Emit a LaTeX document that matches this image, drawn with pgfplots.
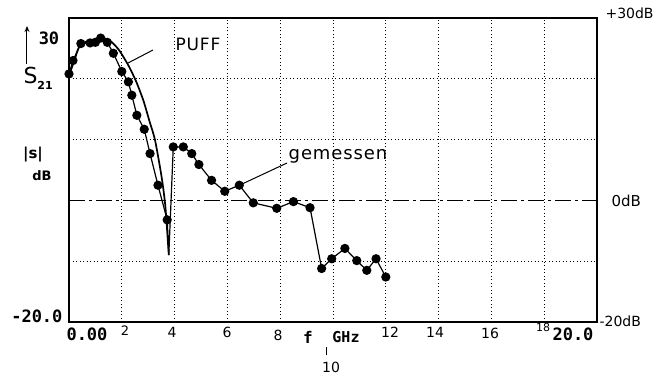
\documentclass[border=0pt]{standalone}
\usepackage{pgfplots}
\pgfplotsset{compat=1.18}
\usetikzlibrary{arrows.meta}
\usepackage{fontspec}
\setmainfont{DejaVu Sans}
\newfontfamily\mono{DejaVu Sans Mono}
\newfontfamily\hand{DejaVu Sans}[LetterSpace=5]
\pgfplotstableread{
x y
0.0 20.8
0.15 23.0
0.45 25.8
0.8 25.9
1.0 26.0
1.2 26.7
1.45 26.0
1.68 24.2
2.0 21.2
2.25 19.5
2.38 17.3
2.57 14.0
2.85 11.7
3.07 7.7
3.37 2.5
3.72 -3.2
3.78 -9.0
3.95 8.8
4.33 8.8
4.65 7.7
4.92 5.9
5.4 3.3
5.9 1.5
6.45 2.5
6.98 -0.4
7.87 -1.3
8.5 -0.2
9.13 -1.2
9.57 -11.2
9.95 -9.6
10.45 -7.9
10.9 -9.9
11.28 -11.5
11.63 -9.6
12.0 -12.6
}\measured
\pgfplotstableread{
x y
0.0 20.5
0.2 23.0
0.4 25.4
0.7 26.2
1.0 26.5
1.3 26.7
1.6 26.1
1.9 24.7
2.25 22.2
2.55 19.5
2.82 16.4
3.05 13.0
3.26 9.9
3.51 3.8
3.65 -1.0
3.78 -9.0
}\puff
\begin{document}
\begin{tikzpicture}[x=1pt,y=1pt]
\useasboundingbox (-69,-59) rectangle (586,322);
\begin{axis}[at={(0,0)}, anchor=south west, scale only axis,
  width=528pt, height=304pt,
  xmin=0, xmax=20, ymin=-20, ymax=30,
  xtick={2,4,...,18}, ytick={-10,10,20},
  xticklabels={}, yticklabels={},
  major tick length=0pt,
  grid=major, grid style={black, line width=0.9pt, dash pattern=on 1pt off 2.5pt},
  axis line style={line width=1.4pt},
  clip=false]
\draw[black, line width=1pt, dash pattern=on 16pt off 4pt on 3pt off 4pt] (axis cs:0,0) -- (axis cs:20,0);
\addplot[black, line width=1.7pt, smooth, tension=0.4] table[x=x,y=y] {\puff};
\addplot[black, line width=1.2pt, mark=*, mark size=4pt,
  mark indices={1,...,16,18,19,...,35}] table[x=x,y=y] {\measured};
\end{axis}
% annotations
\draw[line width=1pt] (84,272) -- (59,259);
\draw[line width=1pt] (218,159) -- (171,137);
\node[font=\hand\fontsize{17}{17}\selectfont] at (129,278) {PUFF};
\node[font=\hand\fontsize{18}{18}\selectfont] at (269,166) {gemessen};
% left labels
\draw[line width=1pt, -{Stealth[length=6pt,width=5pt]}] (-42,258) -- (-42,296);
\node[font=\mono\bfseries\fontsize{17}{17}\selectfont] at (-20,284) {30};
\node[font=\fontsize{22}{22}\selectfont, anchor=west] at (-49,244) {S\raisebox{-6pt}{\bfseries\fontsize{11}{11}\selectfont 21}};
\node[font=\bfseries\fontsize{15}{15}\selectfont] at (-36,167) {|s|};
\node[font=\bfseries\fontsize{13}{13}\selectfont] at (-27,146) {dB};
\node[font=\mono\bfseries\fontsize{17}{17}\selectfont, anchor=east] at (-3,6) {-20.0};
% x labels
\node[font=\mono\bfseries\fontsize{17}{17}\selectfont] at (18,-12) {0.00};
\node[font=\fontsize{13}{13}\selectfont] at (56,-9) {2};
\node[font=\fontsize{14}{14}\selectfont] at (103,-10) {4};
\node[font=\fontsize{14}{14}\selectfont] at (158,-10) {6};
\node[font=\fontsize{14}{14}\selectfont] at (209,-13) {8};
\node[font=\mono\bfseries\fontsize{16}{16}\selectfont] at (239,-15) {f};
\node[font=\mono\bfseries\fontsize{15}{15}\selectfont] at (277,-15) {GHz};
\draw[line width=0.8pt] (257,-25) -- (257,-33);
\node[font=\fontsize{14}{14}\selectfont] at (262,-45) {10};
\node[font=\fontsize{14}{14}\selectfont] at (321,-10) {12};
\node[font=\fontsize{14}{14}\selectfont] at (366,-10) {14};
\node[font=\fontsize{14}{14}\selectfont] at (421,-11) {16};
\node[font=\fontsize{11}{11}\selectfont] at (474,-5) {18};
\node[font=\mono\bfseries\fontsize{17}{17}\selectfont] at (504,-12) {20.0};
% right labels
\node[font=\fontsize{14}{14}\selectfont, anchor=west] at (533,309) {+30dB};
\node[font=\fontsize{15}{15}\selectfont, anchor=west] at (539,121) {0dB};
\node[font=\fontsize{14}{14}\selectfont, anchor=west] at (527,1) {-20dB};
\end{tikzpicture}
\end{document}
